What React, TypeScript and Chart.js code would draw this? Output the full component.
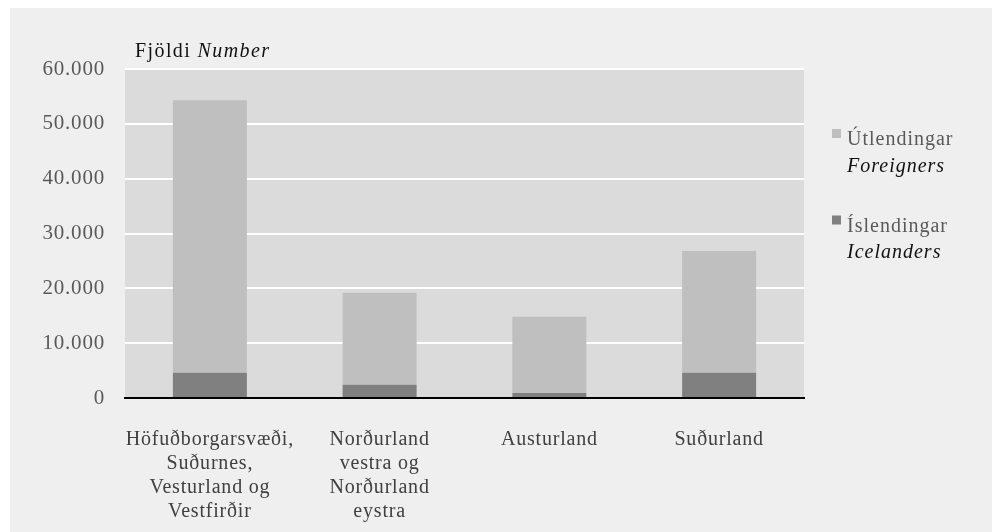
import React, { useEffect, useRef } from "react";
import { Chart, registerables } from "chart.js";

Chart.register(...registerables);

const categories: string[][] = [
  ["Höfuðborgarsvæði,", "Suðurnes,", "Vesturland og", "Vestfirðir"],
  ["Norðurland", "vestra og", "Norðurland", "eystra"],
  ["Austurland"],
  ["Suðurland"],
];
const icelanders: number[] = [4600, 2400, 900, 4600];
const foreigners: number[] = [49700, 16800, 13900, 22200];
const yMax = 60000;
const yStep = 10000;
const seriesLabels = [
  { is: "Útlendingar", en: "Foreigners", color: "#bfbfbf" },
  { is: "Íslendingar", en: "Icelanders", color: "#808080" },
];
const axisTitle = { is: "Fjöldi", en: "Number" };

const FONT = "'Liberation Serif', 'Times New Roman', serif";
const SPACING = "0.8px";

function fmt(v: number): string {
  return String(v).replace(/\B(?=(\d{3})+(?!\d))/g, ".");
}

const decorPlugin = {
  id: "decor",
  beforeLayout(chart: any) {
    chart.ctx.letterSpacing = SPACING;
  },
  beforeDraw(chart: any) {
    const ctx = chart.ctx;
    ctx.save();
    ctx.fillStyle = "#ffffff";
    ctx.fillRect(0, 0, chart.width, chart.height);
    ctx.fillStyle = "#efefef";
    ctx.fillRect(10, 8, 982, chart.height - 8);
    const a = chart.chartArea;
    ctx.fillStyle = "#dbdbdb";
    ctx.fillRect(a.left, a.top, a.right - a.left, a.bottom - a.top);
    ctx.restore();
    ctx.letterSpacing = SPACING;
  },
  afterDraw(chart: any) {
    const ctx = chart.ctx;
    ctx.save();
    ctx.textBaseline = "alphabetic";
    ctx.textAlign = "left";
    // axis title
    ctx.letterSpacing = "1.4px";
    ctx.font = `20px ${FONT}`;
    ctx.fillStyle = "#111111";
    const t1 = axisTitle.is + " ";
    ctx.fillText(t1, 135, 57);
    const w1 = ctx.measureText(t1).width;
    ctx.font = `italic 20px ${FONT}`;
    ctx.fillText(axisTitle.en, 135 + w1, 57);
    // legend
    ctx.letterSpacing = "1px";
    const ys = [145, 231.5];
    seriesLabels.forEach((s, i) => {
      const y = ys[i];
      ctx.fillStyle = s.color;
      ctx.fillRect(832, y - 16, 9, 9);
      ctx.font = `20px ${FONT}`;
      ctx.fillStyle = "#595959";
      ctx.fillText(s.is, 847, y);
      ctx.font = `italic 20px ${FONT}`;
      ctx.fillStyle = "#111111";
      ctx.fillText(s.en, 847, y + 26.5);
    });
    ctx.restore();
  },
};

export default function App() {
  const ref = useRef<HTMLCanvasElement | null>(null);
  useEffect(() => {
    if (!ref.current) return;
    const chart = new Chart(ref.current, {
      type: "bar",
      data: {
        labels: categories,
        datasets: [
          {
            label: seriesLabels[1].is,
            data: icelanders,
            backgroundColor: seriesLabels[1].color,
            barPercentage: 0.436,
            categoryPercentage: 1,
          },
          {
            label: seriesLabels[0].is,
            data: foreigners,
            backgroundColor: seriesLabels[0].color,
            barPercentage: 0.436,
            categoryPercentage: 1,
          },
        ],
      },
      options: {
        responsive: false,
        animation: false,
        devicePixelRatio: 1,
        layout: { padding: { left: 0, right: 192, top: 69, bottom: 0 } },
        plugins: {
          legend: { display: false },
          tooltip: { enabled: false },
          title: { display: false },
        },
        scales: {
          x: {
            stacked: true,
            grid: { display: false },
            border: { display: true, color: "#000000", width: 2 },
            ticks: {
              color: "#404040",
              font: { family: FONT, size: 20, lineHeight: 1.2 },
              padding: 22,
              maxRotation: 0,
              autoSkip: false,
            },
            afterFit(scale: any) {
              scale.height = 134;
            },
          },
          y: {
            stacked: true,
            min: 0,
            max: yMax,
            grid: { color: "#ffffff", lineWidth: 2, drawTicks: false },
            border: { display: false },
            ticks: {
              stepSize: yStep,
              color: "#595959",
              font: { family: FONT, size: 21 },
              padding: 20,
              callback: (v: any) => fmt(Number(v)),
            },
            afterFit(scale: any) {
              scale.width = 125;
            },
          },
        },
      },
      plugins: [decorPlugin],
    });
    return () => chart.destroy();
  }, []);
  return (
    <div style={{ position: "absolute", left: 0, top: 0, width: 996, height: 532 }}>
      <canvas ref={ref} width={996} height={532} style={{ display: "block" }} />
    </div>
  );
}
